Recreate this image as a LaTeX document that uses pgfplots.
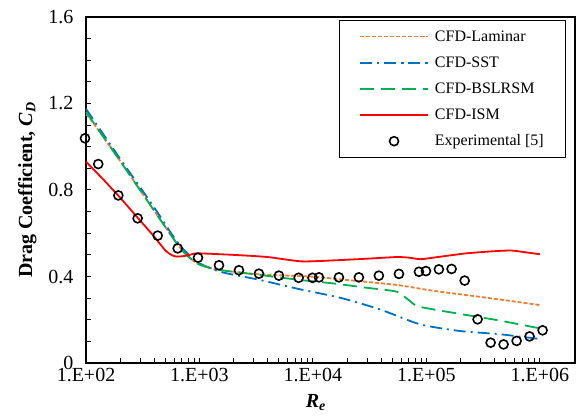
\documentclass[border=0pt]{standalone}
\usepackage{fontspec}
\setmainfont{Liberation Serif}
\usepackage{pgfplots}
\pgfplotsset{compat=1.18}
\definecolor{lamc}{HTML}{ED7D31}
\definecolor{sstc}{HTML}{0070C0}
\definecolor{bslc}{HTML}{00B050}
\definecolor{ismc}{HTML}{FF0000}
\begin{document}
\begin{tikzpicture}
\useasboundingbox (-86pt,-56pt) rectangle (494pt,363pt);
\begin{axis}[
    scale only axis,
    width=489pt, height=346pt,
    xmode=log,
    xmin=100, xmax=2.04e6,
    ymin=0, ymax=1.6,
    xtick={1e2,1e3,1e4,1e5,1e6},
    xticklabels={1.E+02,1.E+03,1.E+04,1.E+05,1.E+06},
    minor xtick={200,300,400,500,600,700,800,900,
                 2000,3000,4000,5000,6000,7000,8000,9000,
                 2e4,3e4,4e4,5e4,6e4,7e4,8e4,9e4,
                 2e5,3e5,4e5,5e5,6e5,7e5,8e5,9e5},
    ytick={0,0.4,0.8,1.2,1.6},
    yticklabels={0,0.4,0.8,1.2,1.6},
    minor ytick={0.1,0.2,0.3,0.5,0.6,0.7,0.9,1.0,1.1,1.3,1.4,1.5},
    tick align=inside,
    xtick pos=left, ytick pos=left,
    major tick length=5pt, minor tick length=5pt,
    every tick/.style={black, line width=1pt},
    axis line style={line width=1.2pt},
    tick label style={font=\fontsize{20}{24}\selectfont},
    yticklabel style={xshift=-9pt},
    xticklabel style={yshift=-2pt},
    xlabel={\textbf{\textit{R}\textsubscript{\textit{e}}}},
    ylabel={\textbf{Drag Coefficient, \textit{C}\textsubscript{\textit{D}}}},
    label style={font=\fontsize{20}{24}\selectfont},
    xlabel style={at={(ticklabel cs:0.47)}, anchor=north, yshift=-5pt},
    ylabel style={yshift=5pt},
    clip=false,
    legend cell align=left,
    legend style={at={(0.982,0.991)}, anchor=north east, draw=black,
        line width=0.8pt, font=\fontsize{16}{19}\selectfont,
        row sep=10pt, inner xsep=20pt, inner ysep=8pt,
        /tikz/every odd column/.append style={column sep=4pt}},
    legend image code/.code={
        \draw[mark repeat=2, mark phase=2, #1, line width=1.8pt] plot coordinates {(0pt,0pt) (34pt,0pt) (68pt,0pt)};
    },
]
\addplot[color=lamc, line width=1.8pt, dash pattern=on 4pt off 2pt, smooth, tension=0.4] coordinates {
(100,1.15)(112.2,1.12)(199.5,0.935)(398.1,0.705)(631,0.553)(770.9,0.499)(1000,0.455)
(1514,0.43)(3412,0.41)(10000,0.399)(17298,0.387)(54576,0.361)(114815,0.334)
(316228,0.304)(1000000,0.268)
};
\addlegendentry{CFD-Laminar}
\addplot[color=sstc, line width=1.8pt, dash pattern=on 12pt off 5pt on 2pt off 5pt, smooth, tension=0.4] coordinates {
(100,1.175)(199.5,0.945)(398.1,0.72)(562.3,0.6)(707.9,0.53)(891.3,0.48)(1000,0.461)
(1514,0.422)(3412,0.384)(7674,0.341)(17298,0.302)(38905,0.248)(87700,0.179)
(197242,0.148)(444631,0.133)(1000000,0.111)
};
\addlegendentry{CFD-SST}
\addplot[color=bslc, line width=1.8pt, dash pattern=on 14pt off 7pt, smooth, tension=0.4] coordinates {
(100,1.16)(112.2,1.124)(199.5,0.935)(398.1,0.705)(631,0.553)(770.9,0.499)(1000,0.455)
(1514,0.43)(3412,0.407)(7674,0.384)(15101,0.368)(29717,0.348)(54576,0.33)
(66834,0.299)(82035,0.264)(114815,0.248)(225944,0.222)(444631,0.196)(1000000,0.16)
};
\addlegendentry{CFD-BSLRSM}
\addplot[color=ismc, line width=1.8pt, smooth, tension=0.4] coordinates {
(100,0.931)(141.3,0.85)(199.5,0.765)(281.8,0.675)(398.1,0.585)(501.2,0.52)(575.4,0.498)
(631,0.492)(741.3,0.495)(891.3,0.505)(1000,0.507)(1995,0.5)(3981,0.49)(7943,0.47)
(15849,0.475)(31623,0.483)(54954,0.49)(70795,0.487)(89125,0.48)(125893,0.49)
(223872,0.507)(398107,0.517)(562341,0.52)(794328,0.51)(1000000,0.503)
};
\addlegendentry{CFD-ISM}
\addplot[only marks, mark=o, mark size=4.5pt, color=black, mark options={line width=1.6pt}] coordinates {
(98,1.039)(128.2,0.92)(192.8,0.775)(285.1,0.669)(428.5,0.589)(642.7,0.53)(970.4,0.487)
(1486,0.452)(2228,0.429)(3342,0.413)(5012,0.404)(7482,0.394)(9908,0.394)(11298,0.396)
(16943,0.396)(25410,0.396)(38107,0.404)(57280,0.412)(85900,0.422)(99080,0.425)
(128800,0.433)(166700,0.435)(217300,0.381)(282500,0.202)(368100,0.094)(478600,0.086)
(623700,0.102)(811000,0.123)(1057000,0.151)
};
\addlegendentry{Experimental [5]}
\end{axis}
\end{tikzpicture}
\end{document}
